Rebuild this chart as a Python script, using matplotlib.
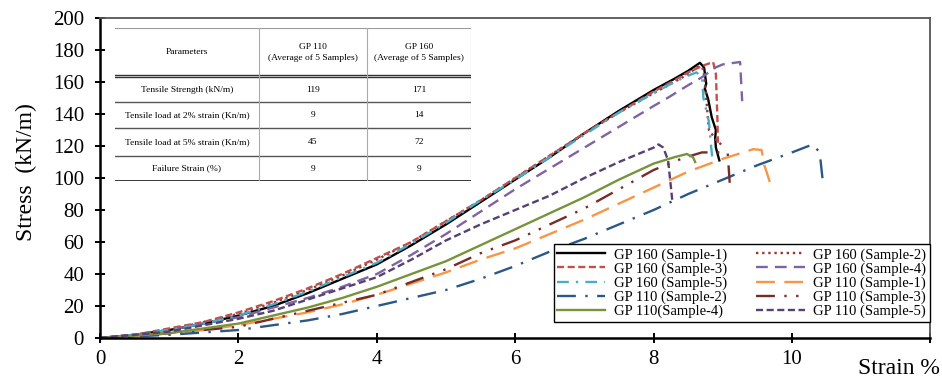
import matplotlib
matplotlib.use("Agg")
import matplotlib.pyplot as plt

plt.rcParams['font.family'] = ['Liberation Serif', 'DejaVu Serif']

# ---- curves (strain %, stress kN/m) ----
g160_1_x = [0, 0.5, 1, 1.5, 2, 2.5, 3, 3.5, 4, 4.5, 5, 5.5, 6, 6.5, 7, 7.5, 8, 8.3, 8.5, 8.67,
            8.73, 8.76, 8.74, 8.79, 8.84, 8.9, 8.89, 8.9, 8.95]
g160_1_y = [0, 2, 5, 9, 14, 20, 28, 37, 46, 58, 71, 85, 99, 113, 128, 142, 155, 162, 167, 172,
            169, 159, 156, 149, 138, 130, 125, 119, 111]

g160_2_x = [0, 0.5, 1, 1.5, 2, 2.5, 3, 3.5, 4, 4.5, 5, 5.5, 6, 6.5, 7, 7.5, 8, 8.3, 8.5, 8.65,
            8.72, 8.75, 8.78, 8.8, 8.9, 9.0]
g160_2_y = [0, 2, 5, 10, 15, 22, 30, 39, 49, 60, 73, 86, 100, 114, 128, 141, 153, 160, 165, 170,
            168, 155, 140, 130, 124, 120]

g160_3_x = [0, 0.5, 1, 1.5, 2, 2.5, 3, 3.5, 4, 4.5, 5, 5.5, 6, 6.5, 7, 7.5, 8, 8.3, 8.5, 8.7,
            8.86, 8.9, 8.92, 8.93]
g160_3_y = [0, 2, 6, 10, 16, 23, 31, 40, 50, 60, 73, 86, 100, 114, 128, 141, 154, 161, 166, 170,
            172.5, 165, 140, 122]

g160_4_x = [0, 0.5, 1, 1.5, 2, 2.5, 3, 3.5, 4, 4.5, 5, 5.5, 6, 6.5, 7, 7.5, 8, 8.2, 8.5, 8.7,
            8.89, 9.0, 9.25, 9.28]
g160_4_y = [0, 2, 5, 9, 13, 19, 25, 32, 40, 52, 65, 79, 93, 106, 119, 132, 145, 150, 158, 163,
            169, 171, 172.5, 148]

g160_5_x = [0, 0.5, 1, 1.5, 2, 2.5, 3, 3.5, 4, 4.5, 5, 5.5, 6, 6.5, 7, 7.5, 8, 8.3, 8.5, 8.62,
            8.7, 8.72, 8.8, 8.83, 8.85]
g160_5_y = [0, 2, 5, 9, 14, 21, 29, 38, 47, 59, 72, 86, 99, 113, 127, 141, 153, 160, 164, 166,
            163, 150, 135, 120, 112]

g110_1_x = [0, 0.5, 1, 1.5, 2, 2.5, 3, 3.5, 4, 4.5, 5, 5.5, 6, 6.5, 7, 7.5, 8, 8.5, 9, 9.44,
            9.56, 9.6, 9.68]
g110_1_y = [0, 1, 3, 5, 8, 12, 16, 21, 27, 34, 41, 49, 56, 65, 74, 84, 94, 104, 112, 118,
            117.5, 108, 97.5]

g110_2_x = [0, 0.5, 1, 1.5, 2, 2.5, 3, 3.5, 4, 4.5, 5, 5.5, 6, 6.5, 7, 7.5, 8, 8.5, 9, 9.5,
            10, 10.3, 10.4, 10.45]
g110_2_y = [0, 1, 2, 3.5, 5, 8, 11, 15, 20, 25, 30, 37, 45, 54, 62, 71, 80, 90, 99, 108,
            116, 121, 116, 96]

g110_3_x = [0, 0.5, 1, 1.5, 2, 2.5, 3, 3.5, 4, 4.5, 5, 5.5, 6, 6.5, 7, 7.5, 8, 8.43, 8.7,
            9.07, 9.1]
g110_3_y = [0, 1, 3, 5, 7, 12, 17, 22, 27, 35, 43, 53, 61, 71, 81, 93, 105, 112.5, 116,
            116, 97]

g110_4_x = [0, 0.5, 1, 1.5, 2, 2.5, 3, 3.5, 4, 4.5, 5, 5.5, 6, 6.5, 7, 7.5, 8, 8.3, 8.48,
            8.57, 8.6]
g110_4_y = [0, 1.5, 3, 6, 9, 14, 19, 25, 32, 40, 48, 58, 68, 78, 88, 99, 109, 113, 115,
            113, 110]

g110_5_x = [0, 0.5, 1, 1.5, 2, 2.5, 3, 3.5, 4, 4.5, 5, 5.5, 6, 6.5, 7, 7.5, 8, 8.07, 8.14,
            8.21, 8.27]
g110_5_y = [0, 2, 4, 8, 12, 17, 24, 31, 38, 49, 61, 71, 80, 89, 100, 110, 119, 121, 119,
            111, 86]

# ---- summary table ----
table_header = ["Parameters", "GP 110\n(Average of 5 Samples)", "GP 160\n(Average of 5 Samples)"]
table_rows = [
    ["Tensile Strength (kN/m)", "119", "171"],
    ["Tensile load at 2% strain (Kn/m)", "9", "14"],
    ["Tensile load at 5% strain (Kn/m)", "45", "72"],
    ["Failure Strain (%)", "9", "9"],
]

x_ticks = [0, 2, 4, 6, 8, 10, 12]
x_tick_labels = ["0", "2", "4", "6", "8", "10", ""]
y_ticks = list(range(0, 201, 20))

fig = plt.figure(figsize=(9.42, 3.81), dpi=100)
W, H = 942, 381
ax = fig.add_axes([100 / W, 1 - 338 / H, 830.4 / W, 320 / H])

series = [
    (g160_1_x, g160_1_y, "GP 160 (Sample-1)", "black", "-"),
    (g160_2_x, g160_2_y, "GP 160 (Sample-2)", "#953735", (0, (1, 1.6))),
    (g160_3_x, g160_3_y, "GP 160 (Sample-3)", "#C0504D", (0, (3, 1.5))),
    (g160_4_x, g160_4_y, "GP 160 (Sample-4)", "#8064A2", (0, (5, 3))),
    (g160_5_x, g160_5_y, "GP 160 (Sample-5)", "#4BACC6", (0, (5, 3, 1, 3))),
    (g110_1_x, g110_1_y, "GP 110 (Sample-1)", "#F79646", (0, (8, 4))),
    (g110_2_x, g110_2_y, "GP 110 (Sample-2)", "#2B5887", (0, (8, 4, 1, 4))),
    (g110_3_x, g110_3_y, "GP 110 (Sample-3)", "#772C2A", (0, (8, 4, 1, 4, 1, 4))),
    (g110_4_x, g110_4_y, "GP 110(Sample-4)", "#77933C", "-"),
    (g110_5_x, g110_5_y, "GP 110 (Sample-5)", "#574171", (0, (3, 1.5))),
]

handles = []
for xs, ys, lab, col, ls in series:
    h, = ax.plot(xs, ys, color=col, linestyle=ls, linewidth=1.7, label=lab)
    handles.append(h)

ax.set_xlim(0, 12)
ax.set_ylim(0, 200)
ax.set_xticks(x_ticks)
ax.set_xticklabels(x_tick_labels)
ax.set_yticks(y_ticks)
ax.tick_params(axis='both', direction='inout', length=7, width=1.4, labelsize=15)
ax.tick_params(axis='y', pad=8)
ax.tick_params(axis='x', pad=5)
for s in ['left', 'bottom']:
    ax.spines[s].set_linewidth(1.8)
    ax.spines[s].set_color('black')
for s in ['top', 'right']:
    ax.spines[s].set_linewidth(1.3)
    ax.spines[s].set_color('#555555')

fig.text(26 / W, 1 - 172 / H, "Stress  (kN/m)", rotation=90, ha='center', va='center', fontsize=17)
fig.text(940 / W, 1 - 369 / H, "Strain %", ha='right', va='center', fontsize=17)

# legend: two columns, filled row by row
order = [0, 2, 4, 6, 8, 1, 3, 5, 7, 9]
leg = ax.legend([handles[i] for i in order], [handles[i].get_label() for i in order],
                ncol=2, loc='lower right', bbox_to_anchor=(0.9995, 0.05),
                borderaxespad=0, fontsize=10.5, labelspacing=0.05, handlelength=3.3,
                handletextpad=0.6, columnspacing=2.0, borderpad=0.25,
                fancybox=False, framealpha=1, edgecolor='black')
leg.get_frame().set_linewidth(1.0)

# table drawn in pixel coordinates
tx = [115, 259, 367, 471]
ty = [28, 76, 102, 128, 156, 181]
tab = fig.add_axes([tx[0] / W, 1 - ty[-1] / H, (tx[-1] - tx[0]) / W, (ty[-1] - ty[0]) / H])
tab.set_xlim(tx[0], tx[-1])
tab.set_ylim(ty[-1] + 0.5, ty[0] - 0.5)
tab.axis('off')
tab.add_patch(plt.Rectangle((tx[0], ty[0]), tx[-1] - tx[0], ty[-1] - ty[0], color='white', zorder=0))
tab.plot([tx[0], tx[-1]], [ty[0], ty[0]], color='#9a9a9a', lw=0.8)
for y in ty[2:-1]:
    tab.plot([tx[0], tx[-1]], [y, y], color='#555555', lw=1.0)
tab.plot([tx[0], tx[-1]], [ty[1] - 1, ty[1] - 1], color='#333333', lw=1.0)
tab.plot([tx[0], tx[-1]], [ty[1] + 1, ty[1] + 1], color='#333333', lw=1.0)
tab.plot([tx[0], tx[-1]], [ty[-1], ty[-1]], color='black', lw=1.8)
for x in tx[1:]:
    tab.plot([x, x], [ty[0], ty[-1]], color='#aaaaaa', lw=0.8)

for j, txt in enumerate(table_header):
    tab.text((tx[j] + tx[j + 1]) / 2, (ty[0] + ty[1]) / 2, txt, ha='center', va='center',
             fontsize=6.8, linespacing=1.5)
for i, row in enumerate(table_rows):
    for j, txt in enumerate(row):
        tab.text((tx[j] + tx[j + 1]) / 2, (ty[i + 1] + ty[i + 2]) / 2 + 0.5, txt,
                 ha='center', va='center', fontsize=6.8)

fig.savefig("out.png", dpi=100)
